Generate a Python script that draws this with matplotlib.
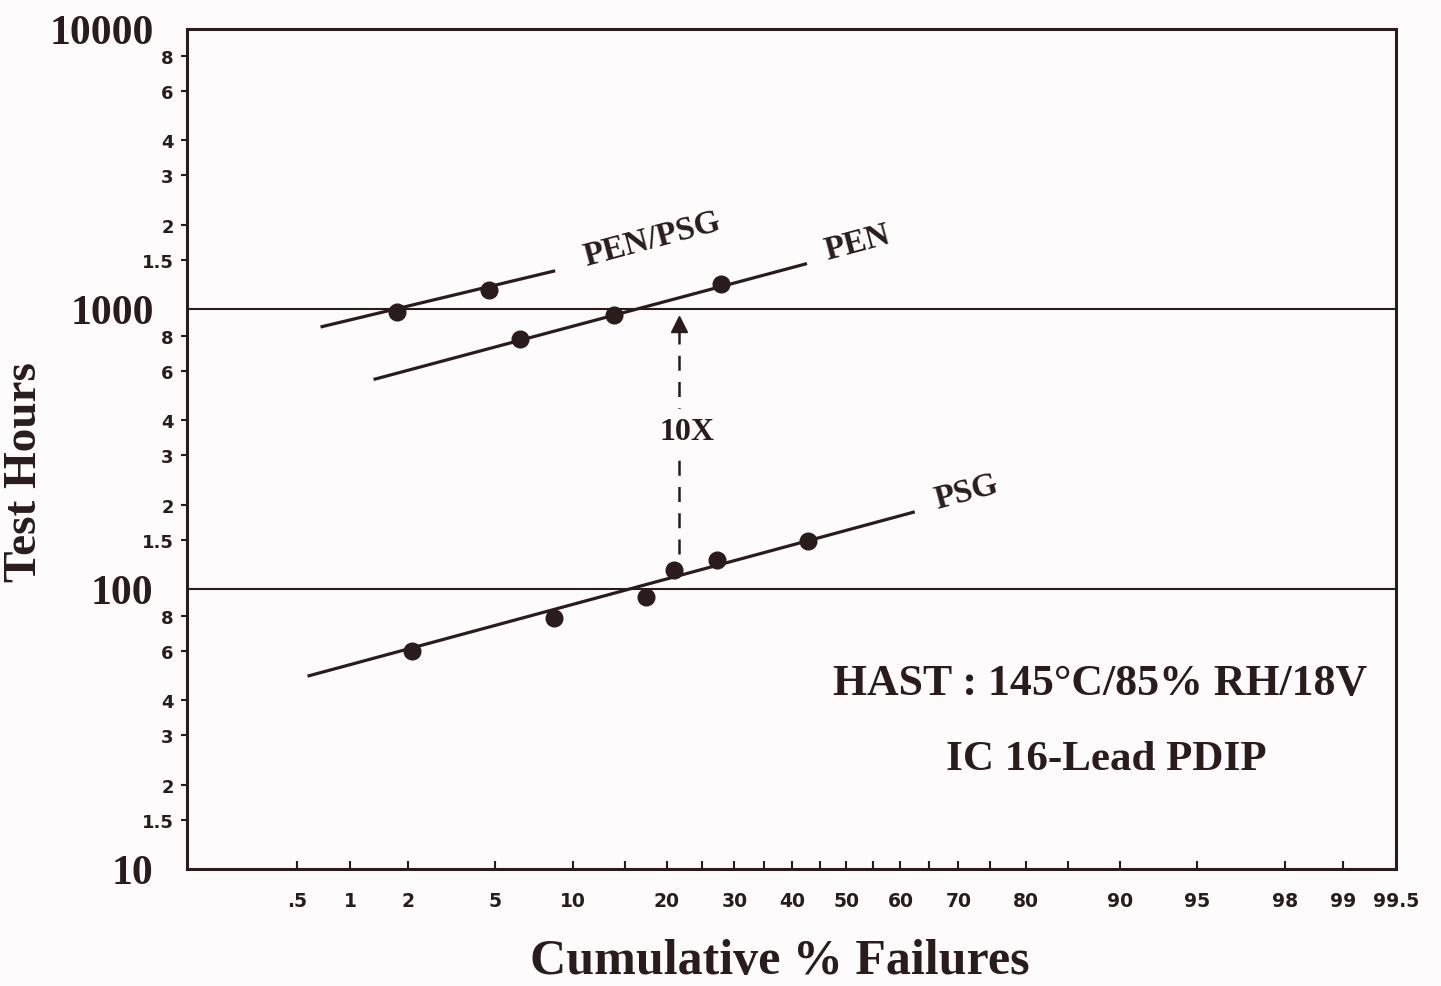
#!/usr/bin/env python3

import numpy as np
import matplotlib
matplotlib.use("Agg")
import matplotlib.pyplot as plt
from statistics import NormalDist

# --- data ---
# cumulative % failures vs test hours
pen_psg_pct = [1.75, 4.7]
pen_psg_hrs = [975, 1170]
pen_psg_fit_pct = [0.70, 8.5]
pen_psg_fit_hrs = [865, 1365]

pen_pct = [6.3, 13.8, 27.8]
pen_hrs = [780, 950, 1225]
pen_fit_pct = [1.36, 42.4]
pen_fit_hrs = [562, 1448]

psg_pct = [2.1, 8.5, 17.4, 20.9, 27.2, 42.8]
psg_hrs = [60, 79, 94, 117, 127, 148]
psg_fit_pct = [0.59, 62.3]
psg_fit_hrs = [49, 188]

# 10X shift arrow (from PSG up to PEN)
arrow_pct = 21.6
arrow_hrs = [133, 840]
arrow_head_hrs = 885

x_major = [0.5, 1, 2, 5, 10, 20, 30, 40, 50, 60, 70, 80, 90, 95, 98, 99, 99.5]
x_major_labels = [".5", "1", "2", "5", "10", "20", "30", "40", "50", "60",
                  "70", "80", "90", "95", "98", "99", "99.5"]
x_minor = [15, 25, 35, 45, 55, 65, 75, 85]

y_major = [10, 100, 1000, 10000]
y_major_labels = ["10", "100", "1000", "10000"]
y_minor_mult = [1.5, 2, 3, 4, 6, 8]
y_minor_labels = ["1.5", "2", "3", "4", "6", "8"]

BG = "#fdfbfb"
INK = "#2a1c1c"
SERIF = "Liberation Serif"
HEAVY = "DejaVu Sans"

_nd = NormalDist()
_ppf = np.vectorize(_nd.inv_cdf, otypes=[float])
_cdf = np.vectorize(_nd.cdf, otypes=[float])


def pct_to_z(p):
  p = np.clip(np.asarray(p, dtype=float) / 100.0, 1e-9, 1 - 1e-9)
  return _ppf(p)


def z_to_pct(z):
  return _cdf(np.asarray(z, dtype=float)) * 100.0


fig = plt.figure(figsize=(14.41, 9.87), dpi=100, facecolor=BG)
ax = fig.add_axes([187 / 1441, 1 - 870 / 987, 1209 / 1441, 840 / 987])
ax.set_facecolor(BG)

ax.set_xscale("function", functions=(pct_to_z, z_to_pct))
ax.set_yscale("log")
ax.set_xlim(0.1, 99.5)
ax.set_ylim(10, 10000)

# reference lines at 100 and 1000 hours
for h in (100, 1000):
  ax.axhline(h, color=INK, lw=1.5, zorder=1)

# fitted lines and data points
for fx, fy, px, py in [(pen_psg_fit_pct, pen_psg_fit_hrs, pen_psg_pct, pen_psg_hrs),
                       (pen_fit_pct, pen_fit_hrs, pen_pct, pen_hrs),
                       (psg_fit_pct, psg_fit_hrs, psg_pct, psg_hrs)]:
  ax.plot(fx, fy, '-', color=INK, lw=2.3, zorder=3)
  ax.plot(px, py, 'o', color=INK, ms=12, zorder=4)

# dashed 10X arrow
ax.plot([arrow_pct, arrow_pct], arrow_hrs, color=INK, lw=1.8,
        linestyle=(0, (6, 4.5)), zorder=2)
ax.plot([arrow_pct], [arrow_head_hrs], '^', color=INK, ms=11, zorder=2)
ax.text(22.7, 366, "10X", family=SERIF, fontweight="bold", fontsize=23,
        color=INK, ha="center", va="center", zorder=5,
        bbox=dict(boxstyle="square,pad=0.25", fc=BG, ec="none"))

# curve labels
ax.text(18.2, 1778, "PEN/PSG", family=SERIF, fontweight="bold", fontsize=24,
        color=INK, rotation=15, ha="center", va="center")
ax.text(52.0, 1733, "PEN", family=SERIF, fontweight="bold", fontsize=24,
        color=INK, rotation=15, ha="center", va="center")
ax.text(71.3, 224, "PSG", family=SERIF, fontweight="bold", fontsize=24,
        color=INK, rotation=15, ha="center", va="center")

ax.text(0.755, 0.221, "HAST : 145°C/85% RH/18V", transform=ax.transAxes,
        family=SERIF, fontweight="bold", fontsize=31.5, color=INK,
        ha="center", va="center")
ax.text(0.760, 0.131, "IC 16-Lead PDIP", transform=ax.transAxes,
        family=SERIF, fontweight="bold", fontsize=31, color=INK,
        ha="center", va="center")

# x axis (probability scale)
ax.set_xticks(x_major, labels=x_major_labels)
ax.set_xticks(x_minor, minor=True)
ax.tick_params(axis="x", which="both", direction="in", length=6, width=1.5,
               color=INK, pad=16)
ax.tick_params(axis="x", which="major", labelsize=13.5)
for lab in ax.get_xticklabels():
  lab.set_family(HEAVY)
  lab.set_fontweight("heavy")
  lab.set_color(INK)

# y axis (log scale)
y_minor = [m * d for d in y_major[:-1] for m in y_minor_mult]
ax.set_yticks(y_major, labels=y_major_labels)
ax.set_yticks(y_minor, labels=y_minor_labels * 3, minor=True)
ax.tick_params(axis="y", which="major", length=0, pad=24, labelsize=30)
ax.tick_params(axis="y", which="minor", direction="out", length=4.5,
               width=1.5, color=INK, pad=5, labelsize=13)
for lab in ax.get_yticklabels():
  lab.set_family(SERIF)
  lab.set_fontweight("bold")
  lab.set_color(INK)
for lab in ax.get_yticklabels(minor=True):
  lab.set_family(HEAVY)
  lab.set_fontweight("heavy")
  lab.set_color(INK)

for s in ax.spines.values():
  s.set_color(INK)
  s.set_linewidth(2.2)

fig.text(780 / 1441, 1 - 962 / 987, "Cumulative % Failures", family=SERIF,
         fontweight="bold", fontsize=36, color=INK, ha="center", va="center")
fig.text(46 / 1441, 1 - 472 / 987, "Test Hours", family=SERIF,
         fontweight="bold", fontsize=34, color=INK, rotation=90,
         ha="right", va="center")

fig.savefig("out.png", dpi=100, facecolor=BG)
